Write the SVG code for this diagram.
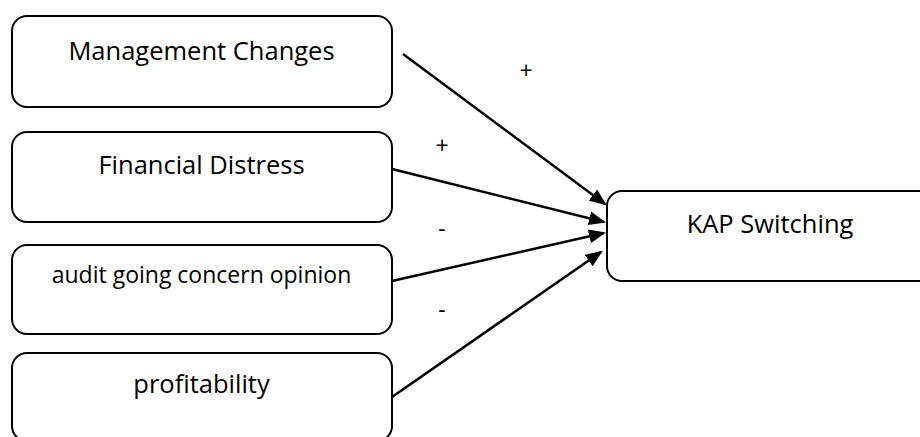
<svg xmlns="http://www.w3.org/2000/svg" width="920" height="437" viewBox="0 0 920 437">
<style>
.box{fill:#fff;stroke:#000;stroke-width:2}
.t{font-family:"Open Sans","Liberation Sans",sans-serif;font-size:25.5px;fill:#000;text-anchor:middle}
.s{font-size:23px}
.lbl{font-family:"Open Sans","Liberation Sans",sans-serif;font-size:23px;fill:#000;text-anchor:middle}
.c{stroke:#000;stroke-width:2.5;fill:none;marker-end:url(#ah)}
</style>
<defs>
<marker id="ah" markerUnits="userSpaceOnUse" markerWidth="17" markerHeight="14" viewBox="0 0 17 14" refX="15" refY="7" orient="auto">
<path d="M0,0 L17,7 L0,14 z" fill="#000"/>
</marker>
</defs>
<rect x="0" y="0" width="920" height="437" fill="#fff"/>
<g id="connectors">
<line class="c" x1="403" y1="54" x2="605" y2="204"/>
<line class="c" x1="392" y1="169" x2="604" y2="222"/>
<line class="c" x1="392" y1="281" x2="604" y2="233"/>
<line class="c" x1="392" y1="397" x2="601" y2="252"/>
<text class="lbl" x="526" y="79">+</text>
<text class="lbl" x="442" y="154">+</text>
<text class="lbl" x="442" y="237">-</text>
<text class="lbl" x="442" y="318">-</text>
</g>
<g id="management">
<rect class="box" x="12" y="16" width="380" height="91" rx="15"/>
<text class="t" x="201.5" y="60">Management Changes</text>
</g>
<g id="financial">
<rect class="box" x="12" y="132" width="380" height="90" rx="15"/>
<text class="t" x="201.5" y="174">Financial Distress</text>
</g>
<g id="audit">
<rect class="box" x="12" y="245" width="380" height="89" rx="15"/>
<text class="t s" x="201.5" y="283">audit going concern opinion</text>
</g>
<g id="profitability">
<rect class="box" x="12" y="353" width="380" height="88" rx="15"/>
<text class="t" x="201.5" y="393">profitability</text>
</g>
<g id="kap">
<rect class="box" x="607" y="191" width="330" height="90" rx="15"/>
<text class="t" x="770" y="233">KAP Switching</text>
</g>
</svg>
